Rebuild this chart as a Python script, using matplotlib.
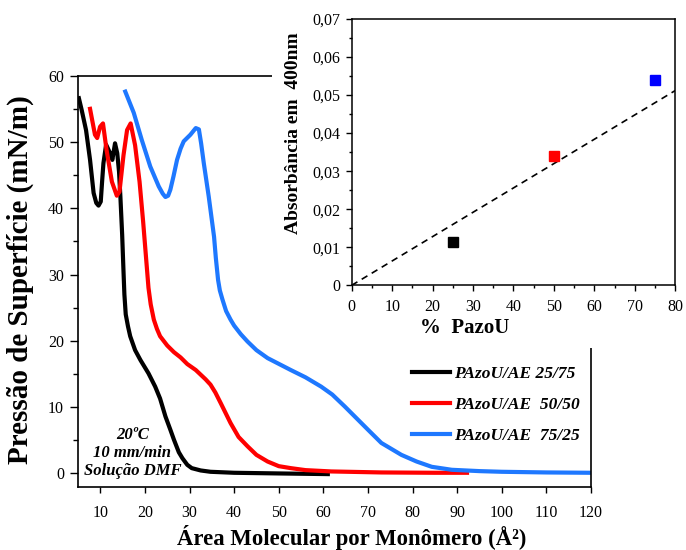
import matplotlib
matplotlib.use("Agg")
import numpy as np
import matplotlib.pyplot as plt
from matplotlib.patches import Rectangle
from matplotlib.lines import Line2D
from matplotlib.ticker import MultipleLocator, FuncFormatter

plt.rcParams["font.family"] = ["Liberation Serif", "DejaVu Serif"]

# ---- Langmuir isotherms: area per monomer (Å²) vs surface pressure (mN/m) ----
area_25 = [5.2, 5.8, 6.8, 7.7, 8.5, 9.1, 9.6, 10.1, 10.4, 10.7, 11.3, 12.2, 12.7, 13.3,
           13.8, 14.2, 14.5, 14.9, 15.2, 15.4, 15.7, 16.2, 16.7, 17.8, 19.0, 20.8,
           22.3, 23.4, 24.6, 25.7, 26.5, 27.6, 28.4, 29.5, 30.5, 32.5, 34.7, 40.0,
           50.0, 61.0]
pi_25 = [56.6, 54.9, 51.8, 47.3, 42.3, 40.8, 40.4, 41.0, 44.0, 46.8, 49.6, 48.3, 47.3, 49.8,
         48.3, 45.5, 41.8, 36.0, 30.5, 27.0, 24.0, 22.2, 20.7, 18.6, 17.1, 15.1,
         13.1, 11.3, 8.6, 6.6, 5.1, 3.2, 2.3, 1.3, 0.8, 0.45, 0.25, 0.1,
         0.0, -0.1]

area_50 = [7.7, 8.8, 9.3, 9.95, 10.6, 11.4, 12.6, 13.7, 14.3, 15.2, 16.0, 16.8, 17.8,
           18.8, 19.6, 20.2, 20.8, 21.3, 22.0, 22.7, 23.4, 25.0, 26.5, 28.0, 29.5,
           31.4, 32.5, 33.6, 34.7, 35.8, 37.0, 39.2, 41.0, 43.0, 45.0, 47.5, 50.0,
           52.7, 56.0, 61.8, 73.0, 85.0, 92.2]
pi_50 = [55.0, 51.1, 50.6, 52.3, 52.8, 48.8, 44.0, 41.9, 42.5, 48.0, 51.8, 52.8, 49.5,
         44.0, 38.0, 33.0, 28.0, 25.5, 23.2, 21.8, 20.7, 19.3, 18.3, 17.5, 16.5,
         15.6, 14.9, 14.2, 13.4, 12.2, 10.6, 7.6, 5.5, 4.1, 2.8, 1.8, 1.1,
         0.8, 0.5, 0.3, 0.15, 0.1, 0.1]

area_75 = [15.6, 17.5, 19.3, 21.2, 23.1, 24.0, 24.6, 25.2, 25.7, 26.4, 27.2, 28.0, 28.7,
           30.2, 31.4, 32.1, 32.6, 33.2, 34.3, 35.5, 35.9, 36.4, 36.8, 37.4, 38.2,
           39.2, 40.0, 41.5, 43.0, 45.0, 47.5, 52.7, 56.0, 59.5, 62.0, 64.8, 70.0,
           73.0, 77.5, 80.9, 84.3, 88.8, 95.0, 100.0, 110.0, 120.0]
pi_75 = [57.6, 54.4, 50.3, 46.3, 43.3, 42.2, 41.7, 41.9, 42.8, 44.8, 47.3, 49.0, 50.1,
         51.1, 52.1, 51.9, 49.8, 46.8, 41.8, 35.7, 32.5, 29.2, 27.6, 26.2, 24.5,
         23.2, 22.3, 21.0, 19.9, 18.6, 17.4, 15.6, 14.5, 13.1, 11.9, 10.1, 6.6,
         4.6, 2.8, 1.8, 1.0, 0.55, 0.35, 0.25, 0.15, 0.1]

series_labels = ["PAzoU/AE 25/75", "PAzoU/AE  50/50", "PAzoU/AE  75/25"]
series_colors = ["#000000", "#FF0000", "#1E78FF"]

x_ticks = [10, 20, 30, 40, 50, 60, 70, 80, 90, 100, 110, 120]
y_ticks = [0, 10, 20, 30, 40, 50, 60]

# ---- Absorbance at 400 nm vs azo content ----
pct_pazou = [25, 50, 75]
absorbance = [0.0115, 0.034, 0.054]
marker_colors = ["#000000", "#FF0000", "#0000FF"]
fit_slope = 0.00064
fit_intercept = 0.0

W, H = 686, 550
def fx(px):
    return px / W
def fy(py):
    return 1 - py / H

fig = plt.figure(figsize=(W / 100, H / 100), dpi=100)

ax = fig.add_axes([fx(78), fy(486.7), (591 - 78) / W, (486.7 - 75.7) / H], zorder=0)
for xs, ys, c, lab in zip([area_25, area_50, area_75], [pi_25, pi_50, pi_75],
                          series_colors, series_labels):
    ax.plot(xs, ys, color=c, lw=3, solid_joinstyle="round", label=lab)

ax.set_xlim(5, 120)
ax.set_ylim(-2, 60)
ax.set_xticks(x_ticks)
ax.set_yticks(y_ticks)
ax.yaxis.set_minor_locator(MultipleLocator(5))
ax.tick_params(axis="y", which="major", length=6, width=1, pad=4, labelsize=11.5)
ax.tick_params(axis="y", which="minor", length=3.5, width=1)
ax.tick_params(axis="x", which="major", length=4, width=1, pad=9, labelsize=11.5)
for s in ax.spines.values():
    s.set_linewidth(1.2)

ax.set_ylabel("Pressão de Superfície (mN/m)", fontsize=21, fontweight="bold")
ax.yaxis.set_label_coords((20 - 78) / 513, 0.505)
ax.yaxis.label.set_va("center")
ax.set_xlabel("Área Molecular por Monômero (Å²)", fontsize=16.4, fontweight="bold")
ax.xaxis.set_label_coords(0.534, (486.7 - 538) / 411)
ax.xaxis.label.set_va("center")

ax.text(17.2, 3.1, "20ºC\n10 mm/min\nSolução DMF", ha="center", va="center",
        multialignment="center", fontsize=12, fontweight="bold", style="italic",
        linespacing=1.15)

handles = [Line2D([], [], color=c, lw=3) for c in series_colors]
ax.legend(handles, series_labels, loc="upper left",
          bbox_to_anchor=(fx(412), fy(366)), bbox_transform=fig.transFigure,
          frameon=False, prop=dict(size=12.5, weight="bold", style="italic"),
          handlelength=2.2, handletextpad=0.2, labelspacing=0.85,
          borderpad=0, borderaxespad=0)

# white panel behind the absorbance plot
fig.add_artist(Rectangle((fx(272), fy(348)), 1, 1, transform=fig.transFigure,
                         facecolor="white", edgecolor="none", zorder=1))

ax2 = fig.add_axes([fx(351.7), fy(285.3), (675.3 - 351.7) / W, (285.3 - 19) / H], zorder=2)
ax2.set_xlim(0, 80)
ax2.set_ylim(0, 0.07)
fx_line = np.array(ax2.get_xlim())
ax2.plot(fx_line, fit_slope * fx_line + fit_intercept, color="black", lw=1.2,
         ls=(0, (4, 3)), zorder=2)
for xv, yv, c in zip(pct_pazou, absorbance, marker_colors):
    ax2.plot([xv], [yv], marker="s", ms=7, color=c, ls="none", zorder=3, clip_on=False)

ax2.xaxis.set_major_locator(MultipleLocator(10))
ax2.xaxis.set_minor_locator(MultipleLocator(5))
ax2.yaxis.set_major_locator(MultipleLocator(0.01))
ax2.yaxis.set_minor_locator(MultipleLocator(0.005))
ax2.yaxis.set_major_formatter(FuncFormatter(
    lambda v, p: "0" if abs(v) < 1e-9 else f"{v:.2f}".replace(".", ",")))
ax2.tick_params(which="major", length=4, width=1, labelsize=11.5)
ax2.tick_params(which="minor", length=2.5, width=1)
ax2.tick_params(axis="x", pad=6)
ax2.tick_params(axis="y", pad=4)
for s in ax2.spines.values():
    s.set_linewidth(1.1)

ax2.set_ylabel("Absorbância em  400nm", fontsize=14, fontweight="bold")
ax2.yaxis.set_label_coords((293 - 351.7) / 323.6, (285.3 - 133) / 266.3)
ax2.yaxis.label.set_va("center")
ax2.set_xlabel("%  PazoU", fontsize=15, fontweight="bold")
ax2.xaxis.set_label_coords((465 - 351.7) / 323.6, (285.3 - 328) / 266.3)
ax2.xaxis.label.set_va("center")

fig.savefig("out.png", dpi=100)
